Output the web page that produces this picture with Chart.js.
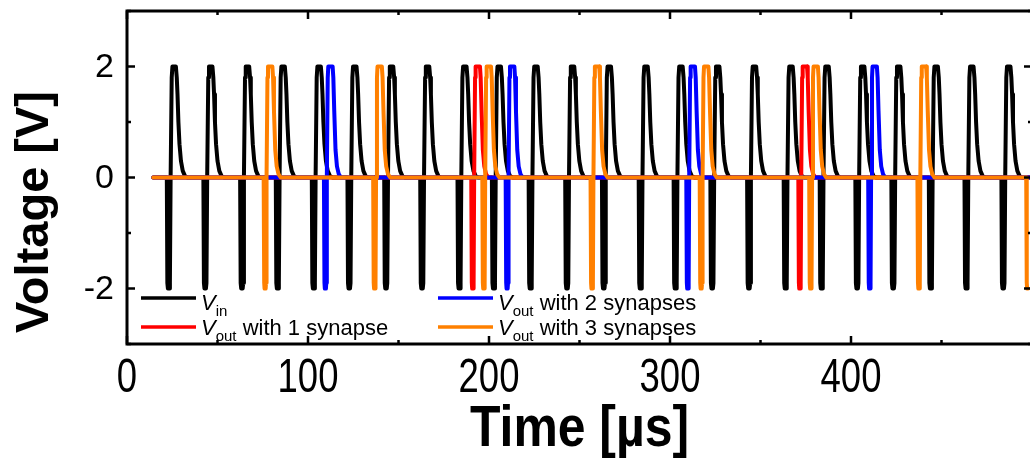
<!DOCTYPE html>
<html>
<head>
<meta charset="utf-8">
<script src="https://cdn.jsdelivr.net/npm/chart.js@4.4.1/dist/chart.umd.min.js"></script>
<style>
  html, body { margin: 0; padding: 0; background: #fff; overflow: hidden; }
  #wrap { position: relative; width: 1036px; height: 462px; }
</style>
</head>
<body>
<div id="wrap"><canvas id="voltChart"></canvas></div>
<script>
// spike times [µs] (centre of the negative spike)
const vinTimes  = [23, 43.2, 63.5, 83.2, 103.1, 122.8, 143.1, 163, 183.6, 202.6, 222.9, 243.1,
                   263.4, 283.7, 303, 323.3, 343.6, 363.8, 383.7, 403.4, 423.3, 444, 463.7, 484.1];
const out1Times = [191, 371.7];
const out2Times = [109.6, 210, 309.8, 410.3];
const out3Times = [76.3, 136.8, 197.1, 256.9, 317.2, 377.7, 437.5, 497.6];

// pulse shapes: offset from spike centre [µs] and voltage [V]
const vinShapeDt = [-1.0, -0.7, -0.4, 0.4, 0.7, 1.1, 1.7, 2.1, 4.0, 4.5, 4.9, 5.4, 6.0, 6.8, 7.8, 9.0, 10.5];
const vinShapeV  = [0, -1.9, -2, -2, -1.9, 0, 1.8, 2, 2, 1.8, 1.5, 1.0, 0.6, 0.3, 0.12, 0.03, 0];
const outShapeDt = [-0.8, -0.5, -0.3, 0.3, 0.5, 0.8, 1.3, 1.6, 4.0, 4.4, 4.9, 5.6, 6.4, 7.4, 8.6];
const outShapeV  = [0, -1.9, -2, -2, -1.9, 0, 1.8, 2, 2, 1.8, 1.2, 0.5, 0.2, 0.06, 0];

const tStart = 14.5;
const tEnd = 498;

// axes
const xMajorTicks = [0, 100, 200, 300, 400];
const yMajorTicks = [-2, 0, 2];

// legend text
const legendSub  = ['in', 'out', 'out', 'out'];
const legendRest = ['', ' with 1 synapse', ' with 2 synapses', ' with 3 synapses'];

const FONT = '"Liberation Sans", Arial, Helvetica, sans-serif';

function buildTrace(times, dts, vs) {
  const pts = [{x: tStart, y: 0}];
  times.forEach(t => {
    for (let i = 0; i < dts.length; i++) {
      if (t + dts[i] > tEnd) return;
      pts.push({x: t + dts[i], y: vs[i]});
    }
  });
  if (pts[pts.length - 1].y === 0) pts.push({x: 500, y: 0});
  return pts;
}

// inward ticks + box around the plot
const framePlugin = {
  id: 'frame',
  afterDatasetsDraw(chart) {
    const {ctx, chartArea: a, scales: {x, y}} = chart;
    ctx.save();
    ctx.strokeStyle = '#000';
    ctx.lineWidth = 3;
    ctx.strokeRect(a.left, a.top, a.right - a.left, a.bottom - a.top);
    ctx.lineWidth = 2.5;
    ctx.beginPath();
    x.ticks.forEach(t => {
      const px = x.getPixelForValue(t.value);
      const len = t.value % 100 === 0 ? 8 : 4;
      ctx.moveTo(px, a.bottom); ctx.lineTo(px, a.bottom - len);
      ctx.moveTo(px, a.top); ctx.lineTo(px, a.top + len);
    });
    y.ticks.forEach(t => {
      const py = y.getPixelForValue(t.value);
      const len = t.value % 2 === 0 ? 8 : 4;
      ctx.moveTo(a.left, py); ctx.lineTo(a.left + len, py);
      ctx.moveTo(a.right, py); ctx.lineTo(a.right - len, py);
    });
    ctx.stroke();
    ctx.restore();
  }
};

// tick labels and axis titles (x side condensed like the original)
const labelPlugin = {
  id: 'labels',
  afterDraw(chart) {
    const {ctx, chartArea: a, scales: {x, y}} = chart;
    ctx.save();
    ctx.fillStyle = '#000';
    ctx.textAlign = 'center';
    ctx.textBaseline = 'alphabetic';
    ctx.font = '48px ' + FONT;
    xMajorTicks.forEach(v => {
      ctx.save();
      ctx.translate(x.getPixelForValue(v), 392);
      ctx.scale(0.76, 1);
      ctx.fillText(String(v), 0, 0);
      ctx.restore();
    });
    ctx.font = '34px ' + FONT;
    ctx.textAlign = 'right';
    ctx.textBaseline = 'middle';
    yMajorTicks.forEach(v => {
      ctx.fillText(String(v), 114, y.getPixelForValue(v) + 1);
    });
    ctx.textAlign = 'center';
    ctx.textBaseline = 'alphabetic';
    ctx.save();
    ctx.font = 'bold 58px ' + FONT;
    ctx.translate((a.left + a.right) / 2, 446);
    ctx.scale(0.86, 1);
    ctx.fillText('Time [\u00b5s]', 0, 0);
    ctx.restore();
    ctx.save();
    ctx.font = 'bold 47px ' + FONT;
    ctx.translate(48, 212);
    ctx.rotate(-Math.PI / 2);
    ctx.fillText('Voltage [V]', 0, 0);
    ctx.restore();
    ctx.restore();
  }
};

// legend with subscripts
const legendPlugin = {
  id: 'subLegend',
  afterDraw(chart) {
    const {ctx} = chart;
    const pos = [[141, 298, 310], [141, 327, 335], [438, 298, 310], [438, 327, 335]];
    ctx.save();
    chart.data.datasets.forEach((ds, i) => {
      const [lx, ly, by] = pos[i];
      ctx.strokeStyle = ds.borderColor;
      ctx.lineWidth = 3.5;
      ctx.beginPath();
      ctx.moveTo(lx, ly); ctx.lineTo(lx + 55, ly);
      ctx.stroke();
      ctx.fillStyle = '#000';
      ctx.textAlign = 'left';
      ctx.textBaseline = 'alphabetic';
      let tx = lx + 60;
      ctx.font = 'italic 22px ' + FONT;
      ctx.fillText('V', tx, by);
      tx += ctx.measureText('V').width;
      ctx.font = '15px ' + FONT;
      ctx.fillText(legendSub[i], tx, by + 6);
      tx += ctx.measureText(legendSub[i]).width;
      ctx.font = '22px ' + FONT;
      ctx.fillText(legendRest[i], tx, by);
    });
    ctx.restore();
  }
};

const ctx = document.getElementById('voltChart').getContext('2d');
new Chart(ctx, {
  type: 'line',
  data: {
    datasets: [
      { label: 'Vin', data: buildTrace(vinTimes, vinShapeDt, vinShapeV), borderColor: '#000000', order: 4 },
      { label: 'Vout with 1 synapse', data: buildTrace(out1Times, outShapeDt, outShapeV), borderColor: '#ff0000', order: 3 },
      { label: 'Vout with 2 synapses', data: buildTrace(out2Times, outShapeDt, outShapeV), borderColor: '#0000ff', order: 2 },
      { label: 'Vout with 3 synapses', data: buildTrace(out3Times, outShapeDt, outShapeV), borderColor: '#ff8000', order: 1 }
    ]
  },
  options: {
    responsive: true,
    maintainAspectRatio: false,
    animation: false,
    parsing: false,
    layout: { padding: { top: 11, right: 4, left: 0, bottom: 0 } },
    elements: {
      line: { borderWidth: 4, tension: 0, borderJoinStyle: 'round', borderCapStyle: 'round', fill: false },
      point: { radius: 0 }
    },
    plugins: { legend: { display: false }, tooltip: { enabled: false } },
    scales: {
      x: {
        type: 'linear', min: 0, max: 500,
        ticks: { display: false, stepSize: 50 },
        grid: { display: false },
        border: { display: false },
        afterFit(s) { s.height = 118; }
      },
      y: {
        type: 'linear', min: -3, max: 3,
        ticks: { display: false, stepSize: 1 },
        grid: { display: false, drawTicks: false },
        border: { display: false },
        afterFit(s) { s.width = 127; }
      }
    }
  },
  plugins: [framePlugin, labelPlugin, legendPlugin]
});
</script>
</body>
</html>
